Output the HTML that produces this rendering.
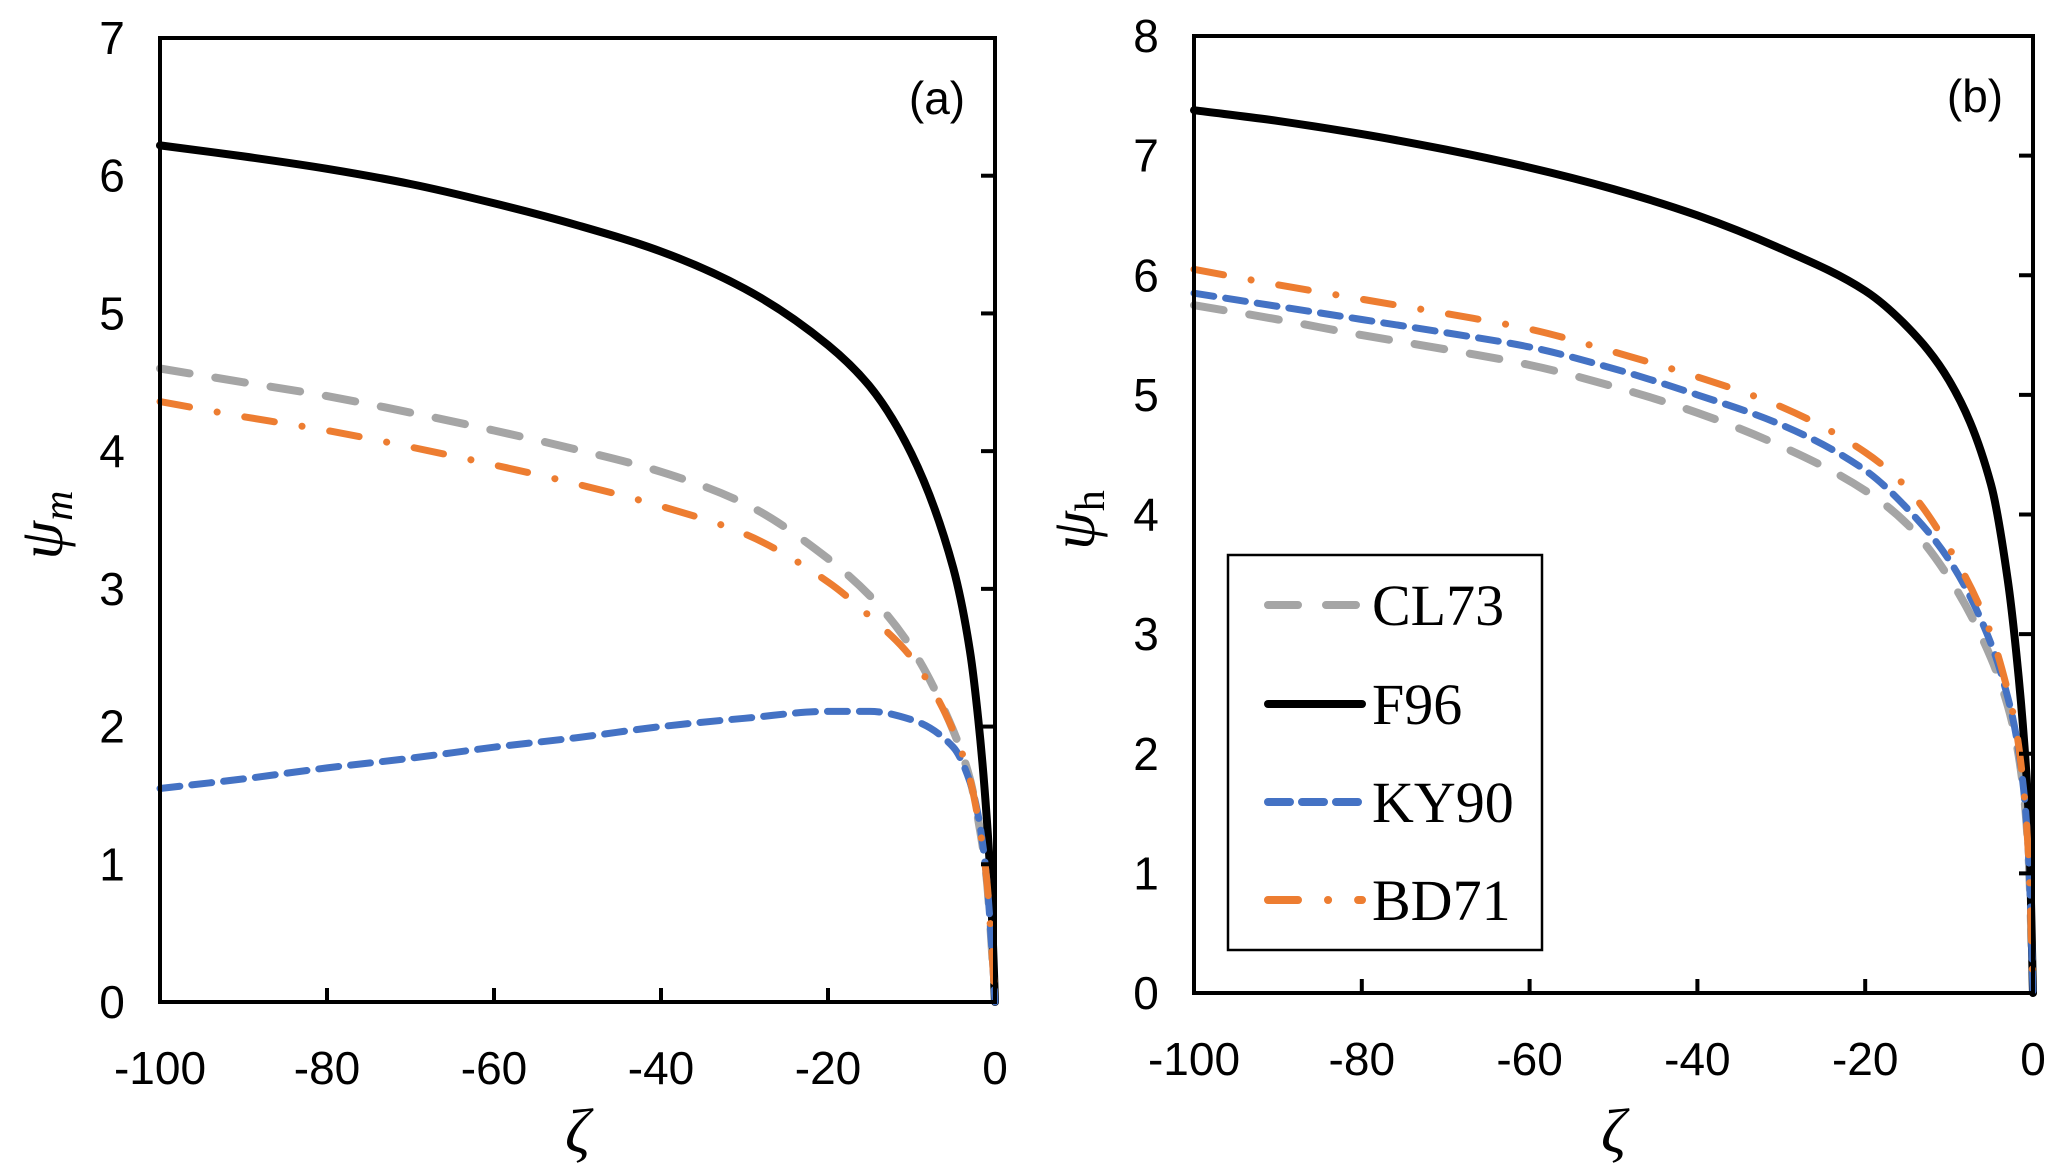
<!DOCTYPE html>
<html><head><meta charset="utf-8"><style>
body{margin:0;background:#fff}
svg{display:block}
.tk{font-family:"Liberation Sans",sans-serif;font-size:46px;fill:#000}
</style></head><body>
<svg id="c" width="2067" height="1171" viewBox="0 0 2067 1171" xmlns="http://www.w3.org/2000/svg"></svg>
<script>
const xs = [-100,-90,-80,-70,-60,-50,-40,-30,-20,-15,-10,-5,-3,-2,-1,-0.5,0];
const xTicks = [-100,-80,-60,-40,-20,0];
const aF96 = [6.22,6.14,6.05,5.94,5.8,5.64,5.45,5.18,4.77,4.47,3.98,3.15,2.55,2.05,1.35,0.85,0];
const aCL73 = [4.6,4.5,4.4,4.28,4.15,4.01,3.85,3.62,3.22,2.95,2.57,1.97,1.62,1.32,0.9,0.5,0];
const aKY90 = [1.55,1.62,1.7,1.77,1.85,1.92,2.0,2.06,2.11,2.11,2.05,1.85,1.6,1.35,0.9,0.5,0];
const aBD71 = [4.36,4.25,4.15,4.03,3.9,3.76,3.6,3.4,3.05,2.8,2.5,1.97,1.62,1.32,0.9,0.5,0];
const bF96 = [7.38,7.29,7.18,7.05,6.9,6.72,6.5,6.22,5.87,5.57,5.12,4.25,3.45,2.85,2.05,1.45,0];
const bCL73 = [5.75,5.63,5.5,5.38,5.25,5.07,4.85,4.57,4.2,3.92,3.47,2.8,2.4,2.1,1.6,1.1,0];
const bKY90 = [5.85,5.74,5.63,5.52,5.4,5.22,5.0,4.75,4.37,4.05,3.62,2.92,2.47,2.15,1.62,1.1,0];
const bBD71 = [6.05,5.92,5.8,5.68,5.55,5.36,5.15,4.9,4.52,4.22,3.72,3.0,2.52,2.2,1.62,1.1,0];
const aYTicks = [0,1,2,3,4,5,6,7];
const bYTicks = [0,1,2,3,4,5,6,7,8];
const seriesNames = ["CL73","F96","KY90","BD71"];

const NS="http://www.w3.org/2000/svg";
const svg=document.getElementById('c');
function mk(tag,attrs,parent){const e=document.createElementNS(NS,tag);for(const k in attrs)e.setAttribute(k,attrs[k]);(parent||svg).appendChild(e);return e;}
const styles={
 CL73:{stroke:"#a5a5a5",dash:"30 26",w:8},
 F96:{stroke:"#000",dash:"",w:8},
 KY90:{stroke:"#4472c4",dash:"20 12",w:7},
 BD71:{stroke:"#ed7d31",dash:"30 28 0.1 28",w:7}
};
// monotone cubic path
function monoPath(P){
 const n=P.length,d=[],m=[];
 for(let i=0;i<n-1;i++)d.push((P[i+1][1]-P[i][1])/(P[i+1][0]-P[i][0]));
 m[0]=d[0];m[n-1]=d[n-2];
 for(let i=1;i<n-1;i++){ if(d[i-1]*d[i]<=0)m[i]=0; else { const h0=P[i][0]-P[i-1][0],h1=P[i+1][0]-P[i][0]; m[i]=3*(h0+h1)/((2*h1+h0)/d[i-1]+(h1+2*h0)/d[i]); } }
 let s='M'+P[0][0].toFixed(1)+','+P[0][1].toFixed(1);
 for(let i=0;i<n-1;i++){const h=(P[i+1][0]-P[i][0])/3;
  s+=` C${(P[i][0]+h).toFixed(1)},${(P[i][1]+m[i]*h).toFixed(1)} ${(P[i+1][0]-h).toFixed(1)},${(P[i+1][1]-m[i+1]*h).toFixed(1)} ${P[i+1][0].toFixed(1)},${P[i+1][1].toFixed(1)}`;}
 return s;
}
function panel(p){
 const g=mk('g',{});
 
 
 const X=v=>p.L+(v+100)/100*(p.R-p.L);
 const Y=v=>p.B-v/p.ymax*(p.B-p.T);
 p.series.forEach(([nm,vals])=>{
  const st=styles[nm];
  const P=xs.map((x,i)=>[X(x),Y(vals[i])]);
  const pl=mk('path',{d:monoPath(P),fill:'none',stroke:st.stroke,'stroke-width':st.w,'stroke-dasharray':st.dash,'stroke-linecap':'round','stroke-linejoin':'round'},g);
  
  
 });
 const fr=mk('rect',{x:p.L,y:p.T,width:p.R-p.L,height:p.B-p.T,fill:'none',stroke:'#000','stroke-width':4},g);
 
 
 p.yt.forEach(v=>{
  mk('line',{x1:p.R-14,x2:p.R,y1:Y(v),y2:Y(v),stroke:'#000','stroke-width':4},g);
  const t=mk('text',{x:p.L-48,y:Y(v)+16,'text-anchor':'middle',class:'tk'},g);
  t.textContent=v;
  
  
 });
 xTicks.forEach(v=>{
  mk('line',{x1:X(v),x2:X(v),y1:p.B,y2:p.B-14,stroke:'#000','stroke-width':4},g);
  const t=mk('text',{x:X(v),y:p.B+82,'text-anchor':'middle',class:'tk'},g);
  t.textContent=v;
  
  
 });
 const lb=mk('text',{x:p.R-58,y:p.T+76,'text-anchor':'middle',class:'tk','font-size':'52'},g);
 lb.textContent=p.label;
 
 
 const xt=mk('text',{x:(p.L+p.R)/2,y:1152,'text-anchor':'middle','font-family':'Liberation Serif,serif','font-style':'italic','font-size':'62'},g);
 xt.textContent='ζ';
 
 
 const yt=mk('text',{x:p.ytx,y:p.yty,'text-anchor':'middle','font-family':'Liberation Serif,serif','font-size':'62',transform:`rotate(-90 ${p.ytx} ${p.yty})`},g);
 
 
 const s1=mk('tspan',{'font-style':'italic'},yt);s1.textContent='ψ';
 const s2=mk('tspan',{'font-size':'42',dy:'10','font-style':p.subIt?'italic':'normal'},yt);s2.textContent=p.sub;
}
panel({name:'panel-a',L:160,R:995,T:38,B:1002,ymax:7,yt:aYTicks,label:'(a)',sub:'m',subIt:true,ytx:62,yty:525,
 series:[["CL73",aCL73],["F96",aF96],["KY90",aKY90],["BD71",aBD71]]});
panel({name:'panel-b',L:1194,R:2033,T:36,B:993,ymax:8,yt:bYTicks,label:'(b)',sub:'h',subIt:false,ytx:1094,yty:520,
 series:[["CL73",bCL73],["F96",bF96],["KY90",bKY90],["BD71",bBD71]]});

const lg=mk('g',{});


mk('rect',{x:1228,y:555,width:314,height:395,fill:'#fff',stroke:'#000','stroke-width':2.5},lg);
const ly=[605,704,802,900];
seriesNames.forEach((nm,i)=>{
 const st=styles[nm];
 const e=mk('g',{},lg);
 
 
 const dash={CL73:"30 28",F96:"",KY90:"22 12",BD71:"30 30 0.1 30"}[nm];
 mk('line',{x1:1268,x2:1362,y1:ly[i],y2:ly[i],stroke:st.stroke,'stroke-width':8,'stroke-dasharray':dash,'stroke-linecap':'round'},e);
 const t=mk('text',{x:1372,y:ly[i]+20,'font-family':'Liberation Serif,serif','font-size':'58'},e);
 t.textContent=nm;
});
</script>
</body></html>
